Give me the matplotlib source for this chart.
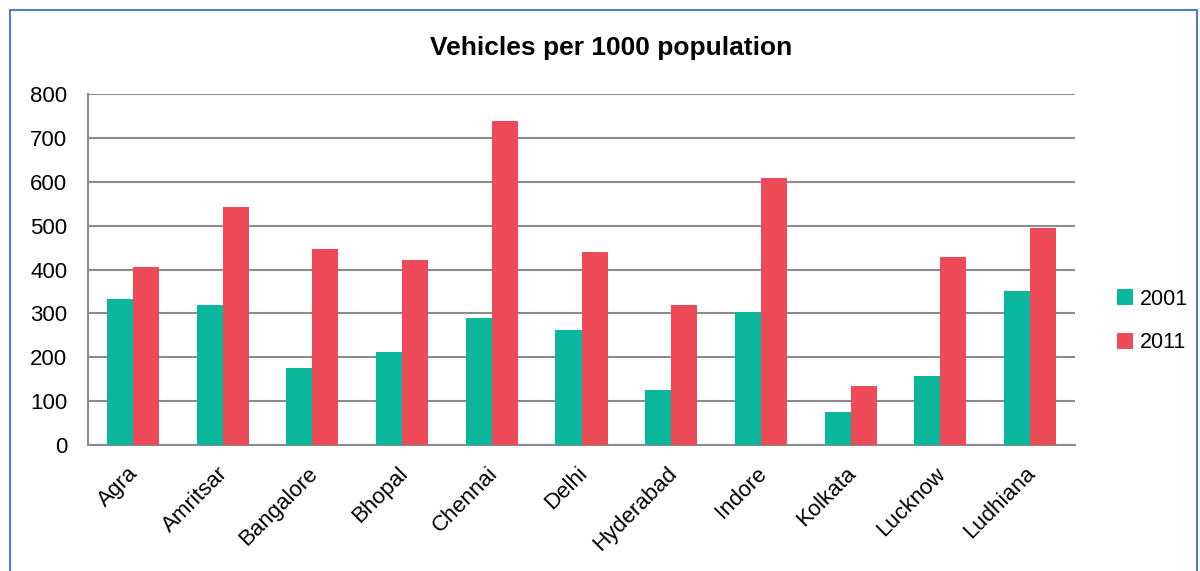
import numpy as np
import matplotlib.pyplot as plt
import matplotlib.transforms as mtrans
from matplotlib.patches import Rectangle

plt.rcParams['font.family'] = ['Liberation Sans', 'DejaVu Sans']

cities = ['Agra', 'Amritsar', 'Bangalore', 'Bhopal', 'Chennai', 'Delhi',
          'Hyderabad', 'Indore', 'Kolkata', 'Lucknow', 'Ludhiana']
v2001 = [333, 319, 175, 212, 289, 262, 125, 303, 75, 157, 351]
v2011 = [406, 542, 447, 422, 738, 440, 319, 609, 134, 428, 495]

teal = '#0BB79C'
red = '#EF4A57'
grid_col = '#8C8C8C'

fig = plt.figure(figsize=(12, 5.71), dpi=100)
ax = fig.add_axes([88/1200, 1 - 445/571, (1075-88)/1200, (445-94)/571])

x = np.arange(len(cities))
w = 0.29
ax.bar(x - w/2, v2001, w, color=teal, label='2001', zorder=3)
ax.bar(x + w/2, v2011, w, color=red, label='2011', zorder=3)

ax.set_xlim(-0.5, len(cities) - 0.5)
ax.set_ylim(0, 800)
ax.set_yticks(range(0, 801, 100))
ax.yaxis.grid(True, color=grid_col, linewidth=1.5, zorder=0)
ax.set_axisbelow(True)
for s in ['top', 'right']:
    ax.spines[s].set_visible(False)
ax.spines['left'].set_color(grid_col)
ax.spines['left'].set_linewidth(1.5)
ax.spines['bottom'].set_color(grid_col)
ax.spines['bottom'].set_linewidth(1.5)
ax.tick_params(axis='y', length=0, labelsize=16, pad=15)
ax.tick_params(axis='x', length=0, labelsize=16, pad=13)
ax.set_xticks(x)
ax.set_xticklabels(cities, rotation=45, ha='right', rotation_mode='anchor')
shift = mtrans.ScaledTranslation(-5/100, 0, fig.dpi_scale_trans)
for lbl in ax.get_xticklabels():
    lbl.set_transform(lbl.get_transform() + shift)

fig.text(611/1200, 1 - 48/571, 'Vehicles per 1000 population', fontsize=19,
         fontweight='bold', ha='center', va='center')

ax.legend(loc='center left', bbox_to_anchor=(1.0425, 0.353), frameon=False,
          fontsize=15.5, handlelength=0.75, handleheight=0.75, handletextpad=0.3,
          labelspacing=1.05, borderaxespad=0, borderpad=0)

fig.patches.append(Rectangle((10/1200, -0.05), (1197-10)/1200, 1.05 - 10/571,
                             transform=fig.transFigure, fill=False,
                             edgecolor='#4F81BD', linewidth=1.5))

fig.savefig('out.png', dpi=100)
